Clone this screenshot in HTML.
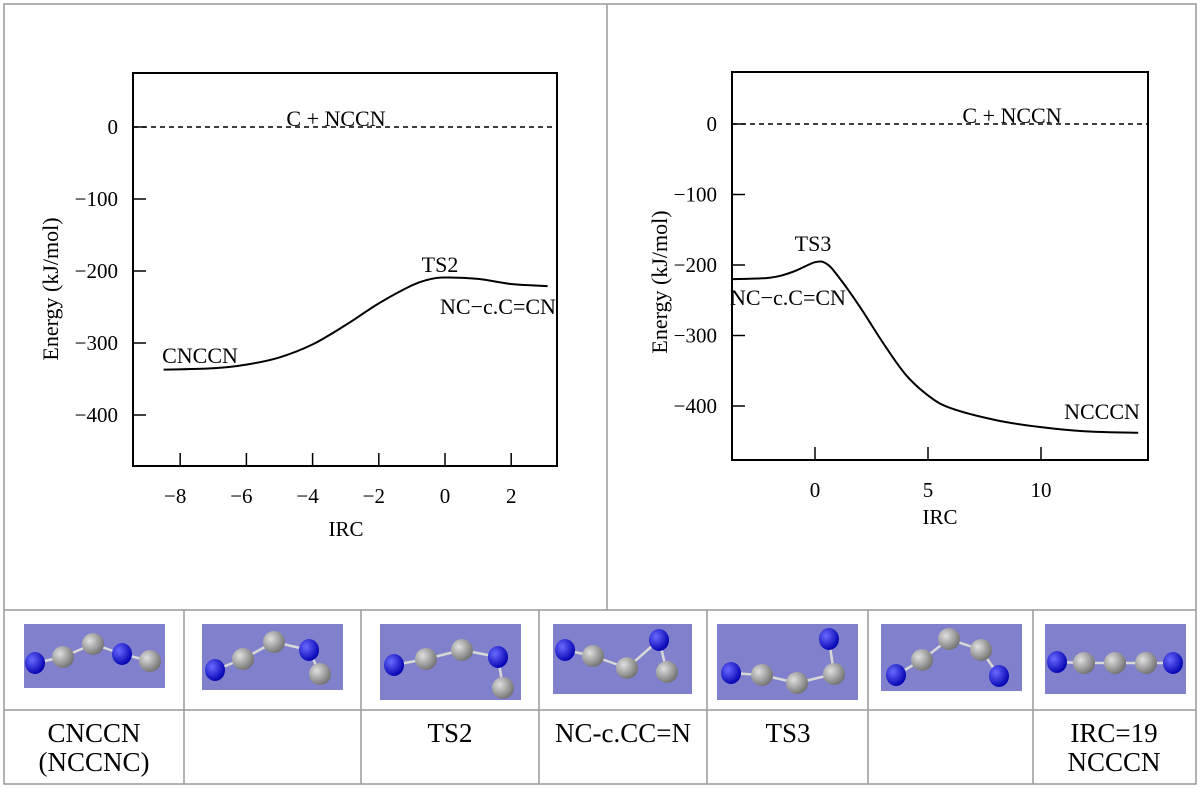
<!DOCTYPE html>
<html><head><meta charset="utf-8"><style>
body{margin:0;background:#fff}
svg{display:block;font-family:"Liberation Serif",serif}
</style></head><body>
<svg id="s" width="1200" height="788" viewBox="0 0 1200 788" xmlns="http://www.w3.org/2000/svg">
<g stroke="#999" stroke-width="1.5" fill="none">
<rect x="4" y="4" width="1192" height="780"/>
<line x1="607" y1="4" x2="607" y2="610"/>
<line x1="4" y1="610" x2="1196" y2="610"/>
<line x1="4" y1="710" x2="1196" y2="710"/>
<line x1="184" y1="610" x2="184" y2="784"/><line x1="361" y1="610" x2="361" y2="784"/>
<line x1="539" y1="610" x2="539" y2="784"/><line x1="707" y1="610" x2="707" y2="784"/>
<line x1="868" y1="610" x2="868" y2="784"/><line x1="1033" y1="610" x2="1033" y2="784"/>
</g>
<g id="left"></g>
<g id="right"></g>
<g id="mols"></g>
<g font-size="27" text-anchor="middle" fill="#000">
<text x="94" y="742">CNCCN</text>
<text x="94" y="771">(NCCNC)</text>
<text x="450" y="742">TS2</text>
<text x="623" y="742">NC-c.CC=N</text>
<text x="788" y="742">TS3</text>
<text x="1114" y="742">IRC=19</text>
<text x="1114" y="771">NCCCN</text>
</g>
</svg>
<script>
const NS="http://www.w3.org/2000/svg";
// Left chart data
const leftX=[-8.5,-7,-6,-5,-4,-3,-2,-1,-0.5,0,1,2,3.1];
const leftY=[-337,-335,-330,-320,-302,-275,-245,-220,-212,-209,-211,-218,-221];
const leftXTicks=[-8,-6,-4,-2,0,2];
const leftYTicks=[0,-100,-200,-300,-400];
// Right chart data
const rightX=[-3.67,-2,-1,0,0.5,1,2,3,4,5,6,8,10,12,14.3];
const rightY=[-220,-218,-210,-196,-198,-215,-260,-310,-355,-385,-403,-420,-430,-436,-438];
const rightXTicks=[0,5,10];
const rightYTicks=[0,-100,-200,-300,-400];

function el(p,t,a,txt){const e=document.createElementNS(NS,t);for(const k in a)e.setAttribute(k,a[k]);if(txt!==undefined)e.textContent=txt;p.appendChild(e);return e;}

function smooth(pts){
  let d='M'+pts[0][0].toFixed(1)+','+pts[0][1].toFixed(1);
  for(let i=0;i<pts.length-1;i++){
    const p0=pts[i-1]||pts[i],p1=pts[i],p2=pts[i+1],p3=pts[i+2]||p2;
    const c1=[p1[0]+(p2[0]-p0[0])/6,p1[1]+(p2[1]-p0[1])/6];
    const c2=[p2[0]-(p3[0]-p1[0])/6,p2[1]-(p3[1]-p1[1])/6];
    d+='C'+c1.map(v=>v.toFixed(1))+' '+c2.map(v=>v.toFixed(1))+' '+p2.map(v=>v.toFixed(1));
  }
  return d;
}

function chart(g,c){
  const sx=v=>c.x0+(v-c.xa)*c.kx, sy=v=>c.y0-v*c.ky;
  const box=el(g,'rect',{x:c.L,y:c.T,width:c.R-c.L,height:c.B-c.T,fill:'none',stroke:'#000','stroke-width':2});
  
  
  c.yt.forEach(v=>{
    const l=el(g,'line',{x1:c.L,x2:c.L+13,y1:sy(v),y2:sy(v),stroke:'#000','stroke-width':1.5});
    
    
    const t=el(g,'text',{x:c.L-15,y:sy(v)+7,'text-anchor':'end','font-size':21},v===0?'0':'\u2212'+Math.abs(v));
    
    
  });
  c.xt.forEach(v=>{
    const l=el(g,'line',{x1:sx(v),x2:sx(v),y1:c.B,y2:c.B-13,stroke:'#000','stroke-width':1.5});
    
    
    const t=el(g,'text',{x:sx(v)+(v<0?-5:0),y:c.B+37,'text-anchor':'middle','font-size':21},v<0?'\u2212'+Math.abs(v):String(v));
    
    
  });
  const d=el(g,'line',{x1:c.L,x2:c.R,y1:sy(0),y2:sy(0),stroke:'#000','stroke-width':1.5,'stroke-dasharray':'5,4'});
  
  
  const pts=c.xs.map((v,i)=>[sx(v),sy(c.ys[i])]);
  const path=el(g,'path',{d:smooth(pts),fill:'none',stroke:'#000','stroke-width':2});
  
  
  const xl=el(g,'text',{x:c.xlx,y:c.xly,'text-anchor':'middle','font-size':21},'IRC');
  
  
  const yl=el(g,'text',{x:0,y:0,'text-anchor':'middle','font-size':22,transform:`translate(${c.ylx},${c.yly}) rotate(-90)`},'Energy (kJ/mol)');
  
  
  c.labels.forEach(a=>{
    const t=el(g,'text',{x:a[1],y:a[2],'text-anchor':'middle','font-size':22},a[0]);
    
    
  });
}
chart(document.getElementById('left'),{L:133,R:557,T:73,B:466,x0:445,xa:0,kx:33.1,y0:127,ky:0.72,
  xs:leftX,ys:leftY,xt:leftXTicks,yt:leftYTicks,xlx:346,xly:536,ylx:58,yly:289,
  labels:[['C + NCCN',336,126],['TS2',440,272],['NC\u2212c.C=CN',498,314],['CNCCN',200,363]]});
chart(document.getElementById('right'),{L:732,R:1148,T:72,B:460,x0:815,xa:0,kx:22.6,y0:124,ky:0.705,
  xs:rightX,ys:rightY,xt:rightXTicks,yt:rightYTicks,xlx:940,xly:524,ylx:667,yly:282,
  labels:[['C + NCCN',1012,123],['TS3',813,251],['NC\u2212c.C=CN',788,305],['NCCCN',1102,419]]});

// molecules
const mols=[
 {box:[24,624,141,64],a:[['N',35,663],['C',63,657],['C',93,644],['N',122,654],['C',150,661]]},
 {box:[202,624,141,66],a:[['N',215,670],['C',243,659],['C',274,642],['N',309,650],['C',320,674]]},
 {box:[380,624,141,76],a:[['N',394,665],['C',426,659],['C',462,650],['N',498,657],['C',503,688]]},
 {box:[553,624,139,70],a:[['N',565,650],['C',593,656],['C',627,668],['N',659,640],['C',667,672]]},
 {box:[717,624,141,76],a:[['N',731,673],['C',762,675],['C',797,683],['C',834,674],['N',829,639]]},
 {box:[881,624,141,67],a:[['N',896,675],['C',922,660],['C',949,639],['C',981,650],['N',999,676]]},
 {box:[1045,624,141,70],a:[['N',1057,662],['C',1084,663],['C',1115,663],['C',1146,663],['N',1173,663]]}
];
const mg=document.getElementById('mols');
const defs=el(mg,'defs',{});
const gN=el(defs,'radialGradient',{id:'gN',cx:'35%',cy:'35%',r:'70%'});
el(gN,'stop',{offset:'0','stop-color':'#6a6aff'});el(gN,'stop',{offset:'1','stop-color':'#0000b0'});
const gC=el(defs,'radialGradient',{id:'gC',cx:'35%',cy:'35%',r:'70%'});
el(gC,'stop',{offset:'0','stop-color':'#e0e0e0'});el(gC,'stop',{offset:'1','stop-color':'#707070'});
mols.forEach((m,i)=>{
  const g=el(mg,'g',{});
  
  
  el(g,'rect',{x:m.box[0],y:m.box[1],width:m.box[2],height:m.box[3],fill:'#8080cc'});
  for(let k=0;k<m.a.length-1;k++){
    const p=m.a[k],q=m.a[k+1];
    el(g,'line',{x1:p[1],y1:p[2],x2:q[1],y2:q[2],stroke:'#d8d8d8','stroke-width':2.5});
  }
  m.a.forEach(a=>el(g,'ellipse',{cx:a[1],cy:a[2],rx:a[0]==='N'?10:11,ry:11,fill:a[0]==='N'?'url(#gN)':'url(#gC)'}));
});
</script>
</body></html>
